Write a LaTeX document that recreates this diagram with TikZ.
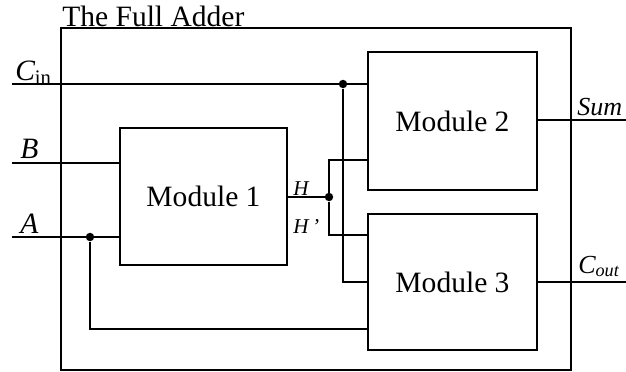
\documentclass[tikz,border=0pt]{standalone}
\usepackage{fontspec}
\setmainfont{Liberation Serif}
\usetikzlibrary{positioning,calc}
\tikzset{
  modbox/.style={draw, line width=1.2pt, inner sep=0pt, font=\fontsize{21}{25}\selectfont},
  wire/.style={line width=1.2pt},
  junction/.style={circle, fill, inner sep=0pt, minimum size=6pt},
  sig/.style={font=\fontsize{21}{25}\selectfont\itshape, inner sep=0pt, anchor=base west},
  outsig/.style={font=\fontsize{18.5}{22}\selectfont\itshape, inner sep=0pt, anchor=base west},
  hsig/.style={font=\fontsize{15}{18}\selectfont\itshape, inner sep=0pt, anchor=base west}
}

\begin{document}
\begin{tikzpicture}[x=0.025cm, y=-0.025cm]
  \useasboundingbox (0,0) rectangle (626,371);
  % outer frame and title
  \node[modbox, anchor=north west, minimum width=12.75cm, minimum height=8.55cm] (adder) at (60,27) {};
  \node[anchor=base west, inner sep=0pt, font=\fontsize{21}{25}\selectfont] (title) at (62,26) {The Full Adder};
  % modules
  \node[modbox, minimum width=4.175cm, minimum height=3.425cm] (mod1) at (203.5,196.5) {Module 1};
  \node[modbox, minimum width=4.225cm, minimum height=3.45cm] (mod2) at (452.5,121) {Module 2};
  \node[modbox, minimum width=4.225cm, minimum height=3.4cm] (mod3) at (452.5,282) {Module 3};
  % free ends
  \coordinate (cin) at (12,84);
  \coordinate (b) at (12,163);
  \coordinate (a) at (12,237);
  \coordinate (sum) at (626,120);
  \coordinate (cout) at (626,282);
  % junctions
  \node[junction] (jc) at (343,84) {};
  \node[junction] (ja) at (90,237) {};
  \node[junction] (jh) at (329,197) {};
  % inputs
  \draw[wire] (cin) -- (cin -| mod2.west);
  \draw[wire] (jc) |- (mod3.west);
  \draw[wire] (b) -- (b -| mod1.west);
  \draw[wire] (a) -- (a -| mod1.west);
  \draw[wire] (ja) |- ([yshift=0.55cm]mod3.south west);
  % H and H'
  \draw[wire] (mod1.east |- jh) -- (jh);
  \draw[wire] (jh) |- ([yshift=0.775cm]mod2.south west);
  \draw[wire] (jh) |- ([yshift=-0.55cm]mod3.north west);
  % outputs
  \draw[wire] (mod2.east |- sum) -- (sum);
  \draw[wire] (mod3.east) -- (cout);
  % labels
  \node[sig] (cinlab) at (15,80) {C\textsubscript{\upshape in}};
  \node[sig] (blab) at (20,158) {B};
  \node[sig] (alab) at (20,233) {A};
  \node[hsig] (hlab) at (293,195) {H};
  \node[hsig] (hplab) at (293,233) {H\,'};
  \node[outsig] (sumlab) at (577,115) {Sum};
  \node[outsig] (coutlab) at (578,273) {C\textsubscript{out}};
\end{tikzpicture}
\end{document}
